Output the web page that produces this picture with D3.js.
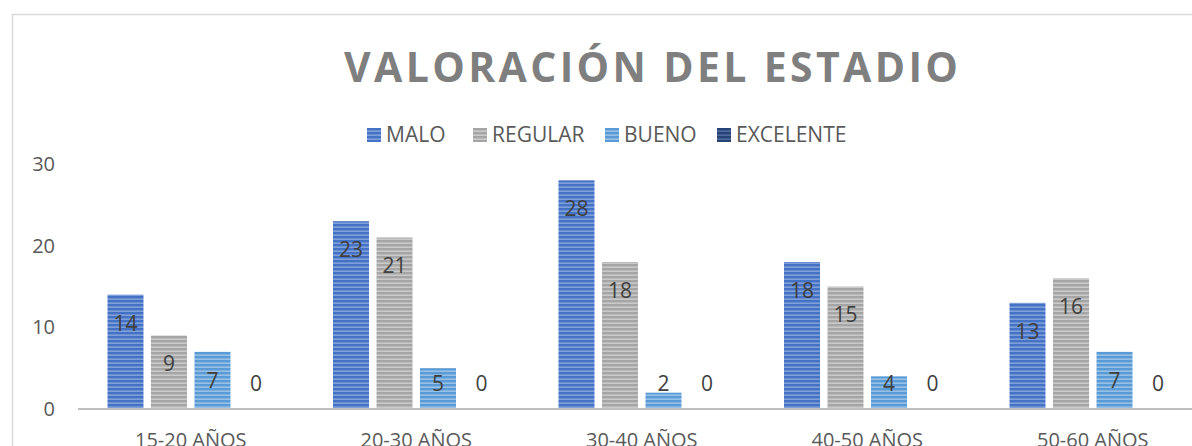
<!DOCTYPE html>
<html>
<head>
<meta charset="utf-8">
<script src="https://cdn.jsdelivr.net/npm/d3@7"></script>
<style>
  html, body { margin: 0; padding: 0; background: #fff; }
  svg { display: block; font-family: "Open Sans", "Noto Sans", sans-serif; }
</style>
</head>
<body>
<svg id="chart" width="1192" height="446"></svg>
<script>
// Age groups and rating series
const categories = ["15-20 AÑOS", "20-30 AÑOS", "30-40 AÑOS", "40-50 AÑOS", "50-60 AÑOS"];
const seriesNames = ["MALO", "REGULAR", "BUENO", "EXCELENTE"];
const malo = [14, 23, 28, 18, 13];
const regular = [9, 21, 18, 15, 16];
const bueno = [7, 5, 2, 4, 7];
const excelente = [0, 0, 0, 0, 0];
const yTicks = [0, 10, 20, 30];

const seriesValues = [malo, regular, bueno, excelente];
const baseColors = ["#4472c4", "#a5a5a5", "#5b9bd5", "#264478"];
const stripeColors = ["#8eaae0", "#d2d2d2", "#a4c9ec", "#5a73a6"];

const svg = d3.select("#chart");
const W = 1192, H = 446;

// chart frame
svg.append("rect")
  .attr("x", 12.5).attr("y", 14.5)
  .attr("width", 1300).attr("height", 500)
  .attr("fill", "#fff").attr("stroke", "#d9d9d9").attr("stroke-width", 1.5);

// striped fills
const defs = svg.append("defs");
seriesNames.forEach((s, i) => {
  const p = defs.append("pattern")
    .attr("id", "pat" + i)
    .attr("patternUnits", "userSpaceOnUse")
    .attr("width", 8).attr("height", 4);
  p.append("rect").attr("width", 8).attr("height", 4).attr("fill", baseColors[i]);
  p.append("rect").attr("y", 2.5).attr("width", 8).attr("height", 1.3).attr("fill", stripeColors[i]);
});

// scales
const x0 = d3.scaleBand().domain(categories).range([78, 1205.5]).paddingInner(0).paddingOuter(0);
const x1 = d3.scaleBand().domain(seriesNames).range([0, x0.bandwidth()])
  .paddingInner(0.1724).paddingOuter(0.678);
const y = d3.scaleLinear().domain([0, 30]).range([409, 164]);

// y axis labels
const yAxis = d3.axisLeft(y).tickValues(yTicks).tickSize(0).tickPadding(0);
const yg = svg.append("g").attr("transform", "translate(55,0)").call(yAxis);
yg.select(".domain").remove();
yg.selectAll("text")
  .attr("font-size", 20).attr("fill", "#595959")
  .attr("font-family", "'Open Sans', sans-serif");

// bars
const groups = svg.append("g").selectAll("g")
  .data(categories)
  .join("g")
  .attr("transform", d => `translate(${x0(d)},0)`);

groups.selectAll("rect")
  .data((c, ci) => seriesNames.map((s, si) => ({ s, si, v: seriesValues[si][ci] })))
  .join("rect")
  .attr("x", d => x1(d.s))
  .attr("y", d => y(d.v))
  .attr("width", x1.bandwidth())
  .attr("height", d => y(0) - y(d.v))
  .attr("fill", d => `url(#pat${d.si})`);

// value labels
groups.selectAll("text")
  .data((c, ci) => seriesNames.map((s, si) => ({ s, si, v: seriesValues[si][ci] })))
  .join("text")
  .attr("x", d => x1(d.s) + x1.bandwidth() / 2)
  .attr("y", d => Math.min(y(d.v) + 28.5, 384))
  .attr("dy", "0.35em")
  .attr("text-anchor", "middle")
  .attr("font-size", 21)
  .attr("fill", "#404040")
  .text(d => d.v);

// category axis
const xAxis = d3.axisBottom(x0).tickSize(0).tickPadding(0);
const xg = svg.append("g").attr("transform", "translate(0,409)").call(xAxis);
xg.select(".domain").attr("stroke", "#bfbfbf").attr("stroke-width", 2)
  .attr("d", `M78,0H${W + 20}`);
xg.selectAll("text")
  .attr("y", 38).attr("dy", 0)
  .attr("font-size", 20).attr("fill", "#595959")
  .attr("font-family", "'Open Sans', sans-serif");

// title
svg.append("text")
  .attr("x", 651).attr("y", 82)
  .attr("text-anchor", "middle")
  .attr("font-size", 41).attr("font-weight", "bold")
  .attr("fill", "#7f7f7f")
  .attr("textLength", 614).attr("lengthAdjust", "spacing")
  .text("VALORACIÓN DEL ESTADIO");

// legend
const legendX = [367, 473, 605, 717];
const legend = svg.append("g").selectAll("g")
  .data(seriesNames)
  .join("g")
  .attr("transform", (d, i) => `translate(${legendX[i]},128)`);
legend.append("rect")
  .attr("width", 14).attr("height", 14)
  .attr("fill", (d, i) => `url(#pat${i})`);
legend.append("text")
  .attr("x", 19).attr("y", 7).attr("dy", "0.35em")
  .attr("font-size", 21).attr("fill", "#595959")
  .text(d => d);
</script>
</body>
</html>
